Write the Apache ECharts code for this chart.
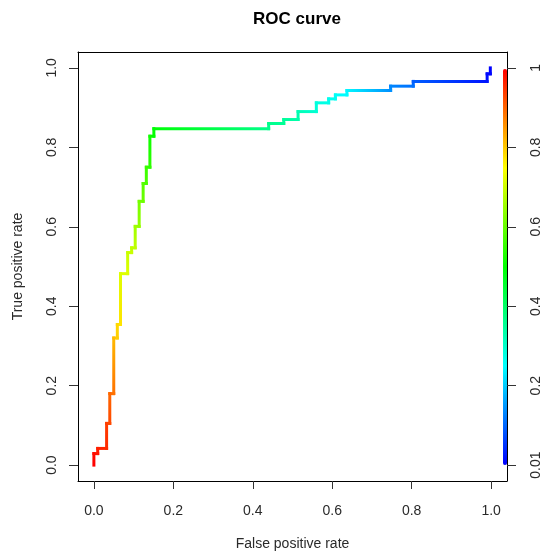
<!DOCTYPE html>
<html>
<head>
<meta charset="utf-8">
<style>html,body{margin:0;padding:0;background:#fff}#chart{width:540px;height:551px}</style>
<script src="https://cdn.jsdelivr.net/npm/echarts@6/dist/echarts.min.js"></script>
</head>
<body>
<div id="chart"></div>
<script>
// ROC points (false positive rate, true positive rate) and their cutoffs
const fpr = [0,0,0.0096,0.0096,0.032,0.032,0.04,0.04,0.05,0.05,0.059,0.059,0.067,0.067,0.085,0.085,0.095,0.095,0.104,0.104,0.114,0.114,0.124,0.124,0.132,0.132,0.141,0.141,0.151,0.151,0.44,0.44,0.478,0.478,0.514,0.514,0.56,0.56,0.591,0.591,0.608,0.608,0.637,0.637,0.747,0.747,0.804,0.804,0.99,0.99,0.998,0.998];
const tpr = [0,0.029,0.029,0.042,0.042,0.105,0.105,0.18,0.18,0.32,0.32,0.354,0.354,0.482,0.482,0.535,0.535,0.547,0.547,0.601,0.601,0.664,0.664,0.709,0.709,0.75,0.75,0.828,0.828,0.847,0.847,0.86,0.86,0.87,0.87,0.89,0.89,0.912,0.912,0.922,0.922,0.932,0.932,0.943,0.943,0.954,0.954,0.966,0.966,0.985,0.985,1.0];
const cutoff = [1.0,0.99,0.98,0.97,0.96,0.94,0.93,0.9,0.89,0.82,0.8,0.79,0.78,0.72,0.72,0.7,0.7,0.69,0.69,0.66,0.65,0.62,0.61,0.59,0.58,0.56,0.55,0.52,0.51,0.5,0.37,0.37,0.36,0.355,0.34,0.33,0.3,0.29,0.28,0.275,0.27,0.265,0.255,0.25,0.15,0.14,0.12,0.1,0.03,0.02,0.015,0.01];
const axisTicks = [0, 0.2, 0.4, 0.6, 0.8, 1.0];
const cutoffLabels = ['0.01', '0.2', '0.4', '0.6', '0.8', '1'];
const cutMin = 0.01, cutMax = 1.0;
const rainbow = ['#0000ff', '#00ffff', '#00ff00', '#ffff00', '#ff0000'];

function cutColor(c) {
  let t = (c - cutMin) / (cutMax - cutMin);
  t = Math.max(0, Math.min(1, t));
  const h = 240 * (1 - t);
  const f = (n) => {
    const k = (n + h / 60) % 6;
    return Math.round(255 * (1 - Math.max(0, Math.min(k, 4 - k, 1))));
  };
  return 'rgb(' + f(5) + ',' + f(3) + ',' + f(1) + ')';
}

const segments = [];
for (let i = 0; i + 1 < fpr.length; i++) {
  segments.push([fpr[i], tpr[i], fpr[i + 1], tpr[i + 1], cutoff[i], cutoff[i + 1]]);
}

const FONT = '"Liberation Sans", Arial, sans-serif';
const labelStyle = { color: '#2a2a2a', fontSize: 14, fontFamily: FONT };
const tickStyle = { color: '#333', width: 1 };

const chart = echarts.init(document.getElementById('chart'), null, { renderer: 'canvas' });
chart.setOption({
  animation: false,
  backgroundColor: '#fff',
  title: {
    text: 'ROC curve',
    left: 292, top: 6, textAlign: 'center',
    textStyle: { fontSize: 17, fontWeight: 'bold', color: '#000', fontFamily: FONT }
  },
  grid: { left: 78, right: 33, top: 52, bottom: 70, containLabel: false, outerBoundsMode: 'none' },
  xAxis: [{
    type: 'value', min: -0.04, max: 1.04, position: 'bottom',
    name: 'False positive rate', nameLocation: 'middle', nameGap: 56,
    nameTextStyle: labelStyle,
    axisLine: { show: true, onZero: false, lineStyle: { color: '#000', width: 1 } },
    axisTick: { show: true, length: 8, customValues: axisTicks, lineStyle: tickStyle },
    axisLabel: { show: true, margin: 23, customValues: axisTicks, formatter: v => v.toFixed(1), ...labelStyle },
    splitLine: { show: false }
  }, {
    type: 'value', min: -0.04, max: 1.04, position: 'top',
    axisLine: { show: true, onZero: false, lineStyle: { color: '#000', width: 1 } },
    axisTick: { show: false }, axisLabel: { show: false }, splitLine: { show: false }
  }],
  yAxis: [{
    type: 'value', min: -0.04, max: 1.04, position: 'left',
    name: 'True positive rate', nameLocation: 'middle', nameGap: 53, nameRotate: 90,
    nameTextStyle: labelStyle,
    axisLine: { show: true, onZero: false, lineStyle: { color: '#000', width: 1 } },
    axisTick: { show: true, length: 9, customValues: axisTicks, lineStyle: tickStyle },
    axisLabel: { show: true, margin: 19, rotate: 90, customValues: axisTicks, formatter: v => v.toFixed(1), ...labelStyle },
    splitLine: { show: false }
  }, {
    type: 'value', min: -0.04, max: 1.04, position: 'right',
    axisLine: { show: true, onZero: false, lineStyle: { color: '#000', width: 1 } },
    axisTick: { show: true, length: 9, customValues: axisTicks, lineStyle: tickStyle },
    axisLabel: { show: true, margin: 22, rotate: 90, customValues: axisTicks,
      formatter: v => cutoffLabels[Math.round(v * 5)], ...labelStyle },
    splitLine: { show: false }
  }],
  visualMap: {
    type: 'continuous', min: cutMin, max: cutMax,
    dimension: 4, seriesIndex: 0,
    calculable: false, hoverLink: false, realtime: false,
    orient: 'vertical', itemWidth: 4, itemHeight: 396,
    left: 503, top: 69, padding: 0, text: null, showLabel: false,
    inRange: { color: rainbow }
  },
  series: [{
    type: 'custom',
    xAxisIndex: 0, yAxisIndex: 0,
    encode: { x: [0, 2], y: [1, 3] },
    data: segments,
    clip: false,
    renderItem: function (params, api) {
      const p0 = api.coord([api.value(0), api.value(1)]);
      const p1 = api.coord([api.value(2), api.value(3)]);
      const c0 = cutColor(api.value(4));
      const c1 = cutColor(api.value(5));
      const same = (p0[0] === p1[0] && p0[1] === p1[1]);
      const stroke = same ? c0 : new echarts.graphic.LinearGradient(p0[0], p0[1], p1[0], p1[1],
        [{ offset: 0, color: c0 }, { offset: 1, color: c1 }], true);
      return {
        type: 'line',
        shape: { x1: p0[0], y1: p0[1], x2: p1[0], y2: p1[1] },
        style: { stroke: stroke, lineWidth: 3, lineCap: 'square', fill: null }
      };
    }
  }]
});
</script>
</body>
</html>
